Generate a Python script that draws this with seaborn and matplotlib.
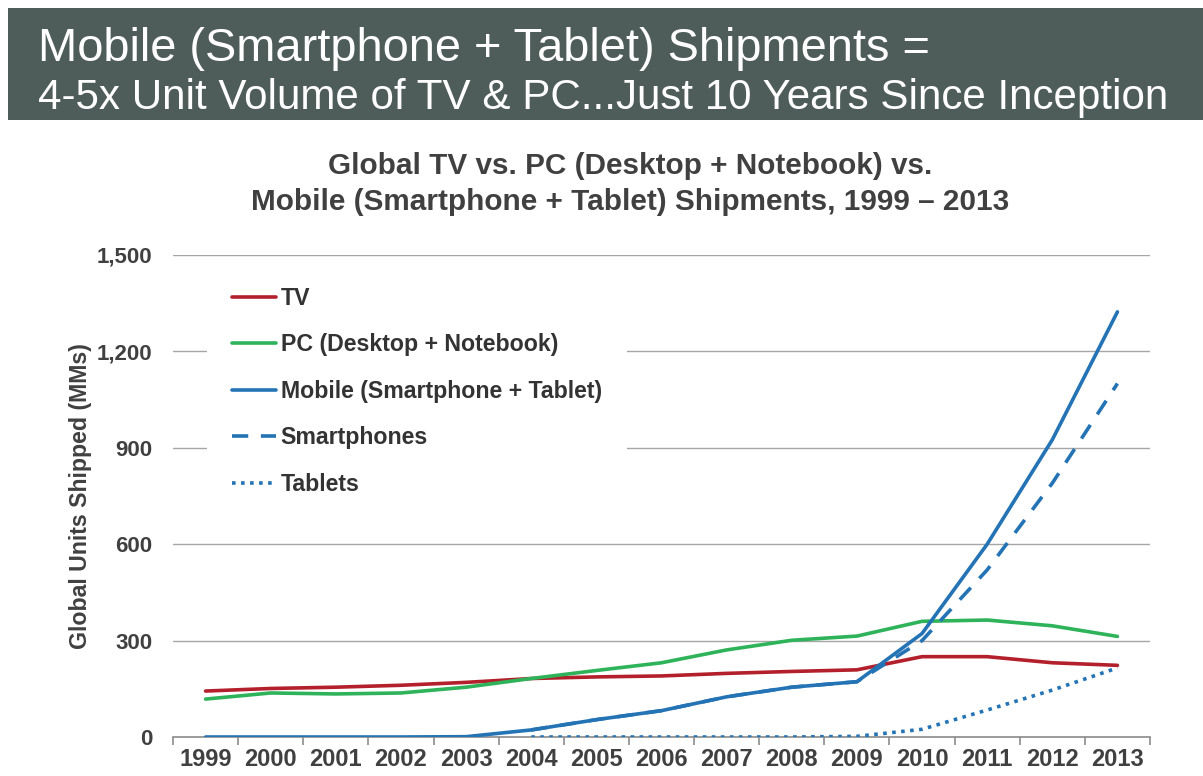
import numpy as np
import pandas as pd
import matplotlib
matplotlib.use("Agg")
import matplotlib.pyplot as plt
from matplotlib.patches import Rectangle
from matplotlib.ticker import FuncFormatter, FixedLocator
import seaborn as sns

# ---- data (millions of units shipped) ----
years = list(range(1999, 2014))
tv = [143, 151, 155, 161, 170, 182, 187, 190, 198, 204, 209, 250, 250, 231, 223]
pc = [118, 137, 134, 137, 155, 182, 207, 231, 271, 301, 314, 360, 364, 346, 313]
mobile = [0, 0, 0, 0, 1, 22, 54, 82, 125, 155, 172, 322, 600, 925, 1323]
smartphones = [np.nan] * 5 + [22, 54, 82, 125, 155, 172, 300, 520, 790, 1100]
tablets = [np.nan] * 5 + [0, 0, 0, 0, 0, 2, 24, 84, 146, 215]
series_labels = ["TV", "PC (Desktop + Notebook)", "Mobile (Smartphone + Tablet)",
                 "Smartphones", "Tablets"]
y_ticks = [0, 300, 600, 900, 1200, 1500]

banner_lines = ["Mobile (Smartphone + Tablet) Shipments =",
                "4-5x Unit Volume of TV & PC...Just 10 Years Since Inception"]
chart_title = ["Global TV vs. PC (Desktop + Notebook) vs.",
               "Mobile (Smartphone + Tablet) Shipments, 1999 \u2013 2013"]
y_label = "Global Units Shipped (MMs)"

sns.set_theme(style="white")
plt.rcParams["font.family"] = ["Liberation Sans", "DejaVu Sans"]

W, H = 1203, 776
fig = plt.figure(figsize=(W / 100, H / 100), dpi=100)
fig.patch.set_facecolor("white")

def fx(px):
    return px / W

def fy(py):
    return 1 - py / H

# header banner
fig.patches.append(Rectangle((fx(8), fy(120)), 1 - fx(8), (120 - 8) / H,
                             transform=fig.transFigure, facecolor="#4f5d5a",
                             edgecolor="none", zorder=0))
fig.text(fx(38), fy(61), banner_lines[0], color="white", fontsize=33.8,
         va="baseline", ha="left")
fig.text(fx(38), fy(109), banner_lines[1], color="white", fontsize=30.3,
         va="baseline", ha="left")

# chart title
text_gray = "#404040"
fig.text(fx(630), fy(166), chart_title[0], color=text_gray, fontsize=21.4,
         fontweight="bold", ha="center", va="center")
fig.text(fx(630), fy(202), chart_title[1], color=text_gray, fontsize=21.4,
         fontweight="bold", ha="center", va="center")

ax = fig.add_axes([fx(173), fy(737), (1150 - 173) / W, (737 - 255) / H])

df = pd.DataFrame({"year": years, "TV": tv, "PC": pc, "Mobile": mobile,
                   "Smartphones": smartphones, "Tablets": tablets})

red, green, blue = "#b3202c", "#2eb35a", "#2474b5"
lw = 2.6
sns.lineplot(data=df, x="year", y="Tablets", ax=ax, color=blue, lw=lw,
             linestyle=(0, (1, 1.5)), label=series_labels[4], zorder=3)
sns.lineplot(data=df, x="year", y="TV", ax=ax, color=red, lw=lw,
             label=series_labels[0], zorder=4)
sns.lineplot(data=df, x="year", y="PC", ax=ax, color=green, lw=lw,
             label=series_labels[1], zorder=4)
sns.lineplot(data=df, x="year", y="Smartphones", ax=ax, color=blue, lw=lw,
             linestyle=(0, (4.5, 3.5)), label=series_labels[3], zorder=5)
sns.lineplot(data=df, x="year", y="Mobile", ax=ax, color=blue, lw=lw,
             label=series_labels[2], zorder=6)

ax.set_xlim(years[0] - 0.5, years[-1] + 0.5)
ax.set_ylim(0, 1500)
ax.set_xticks(years)
ax.set_xticklabels([str(y) for y in years])
ax.xaxis.set_minor_locator(FixedLocator(np.arange(years[0] - 0.5, years[-1] + 1, 1)))
ax.set_yticks(y_ticks)
ax.yaxis.set_major_formatter(FuncFormatter(lambda v, p: f"{int(v):,}"))

ax.grid(axis="y", color="#a6a6a6", lw=1.0)
ax.grid(axis="x", visible=False)
for side in ["top", "right", "left"]:
    ax.spines[side].set_visible(False)
ax.spines["bottom"].set_color("#8c8c8c")
ax.spines["bottom"].set_linewidth(1.2)
ax.set_facecolor("white")

ax.tick_params(axis="x", which="major", length=0, pad=8, labelsize=17,
               labelcolor=text_gray)
ax.tick_params(axis="x", which="minor", length=6, width=1.2, color="#8c8c8c",
               direction="out", bottom=True)
ax.tick_params(axis="y", length=0, pad=15, labelsize=16, labelcolor=text_gray)
for lab in ax.get_xticklabels() + ax.get_yticklabels():
    lab.set_fontweight("bold")

ax.set_xlabel("")
ax.set_ylabel(y_label, fontsize=16.7, fontweight="bold", color=text_gray,
              labelpad=3)

handles, labels = ax.get_legend_handles_labels()
order = [labels.index(s) for s in series_labels]
leg = ax.legend([handles[i] for i in order], [labels[i] for i in order],
                loc="upper left", bbox_to_anchor=(fx(207), fy(262)),
                bbox_transform=fig.transFigure, frameon=True, fancybox=False,
                facecolor="white", edgecolor="none", framealpha=1,
                fontsize=16.7, handlelength=1.9, handletextpad=0.2,
                labelspacing=1.01, borderpad=1.08, borderaxespad=0)
for t in leg.get_texts():
    t.set_fontweight("bold")
    t.set_color("#333333")
leg.set_zorder(10)

fig.savefig("out.png", dpi=100)
